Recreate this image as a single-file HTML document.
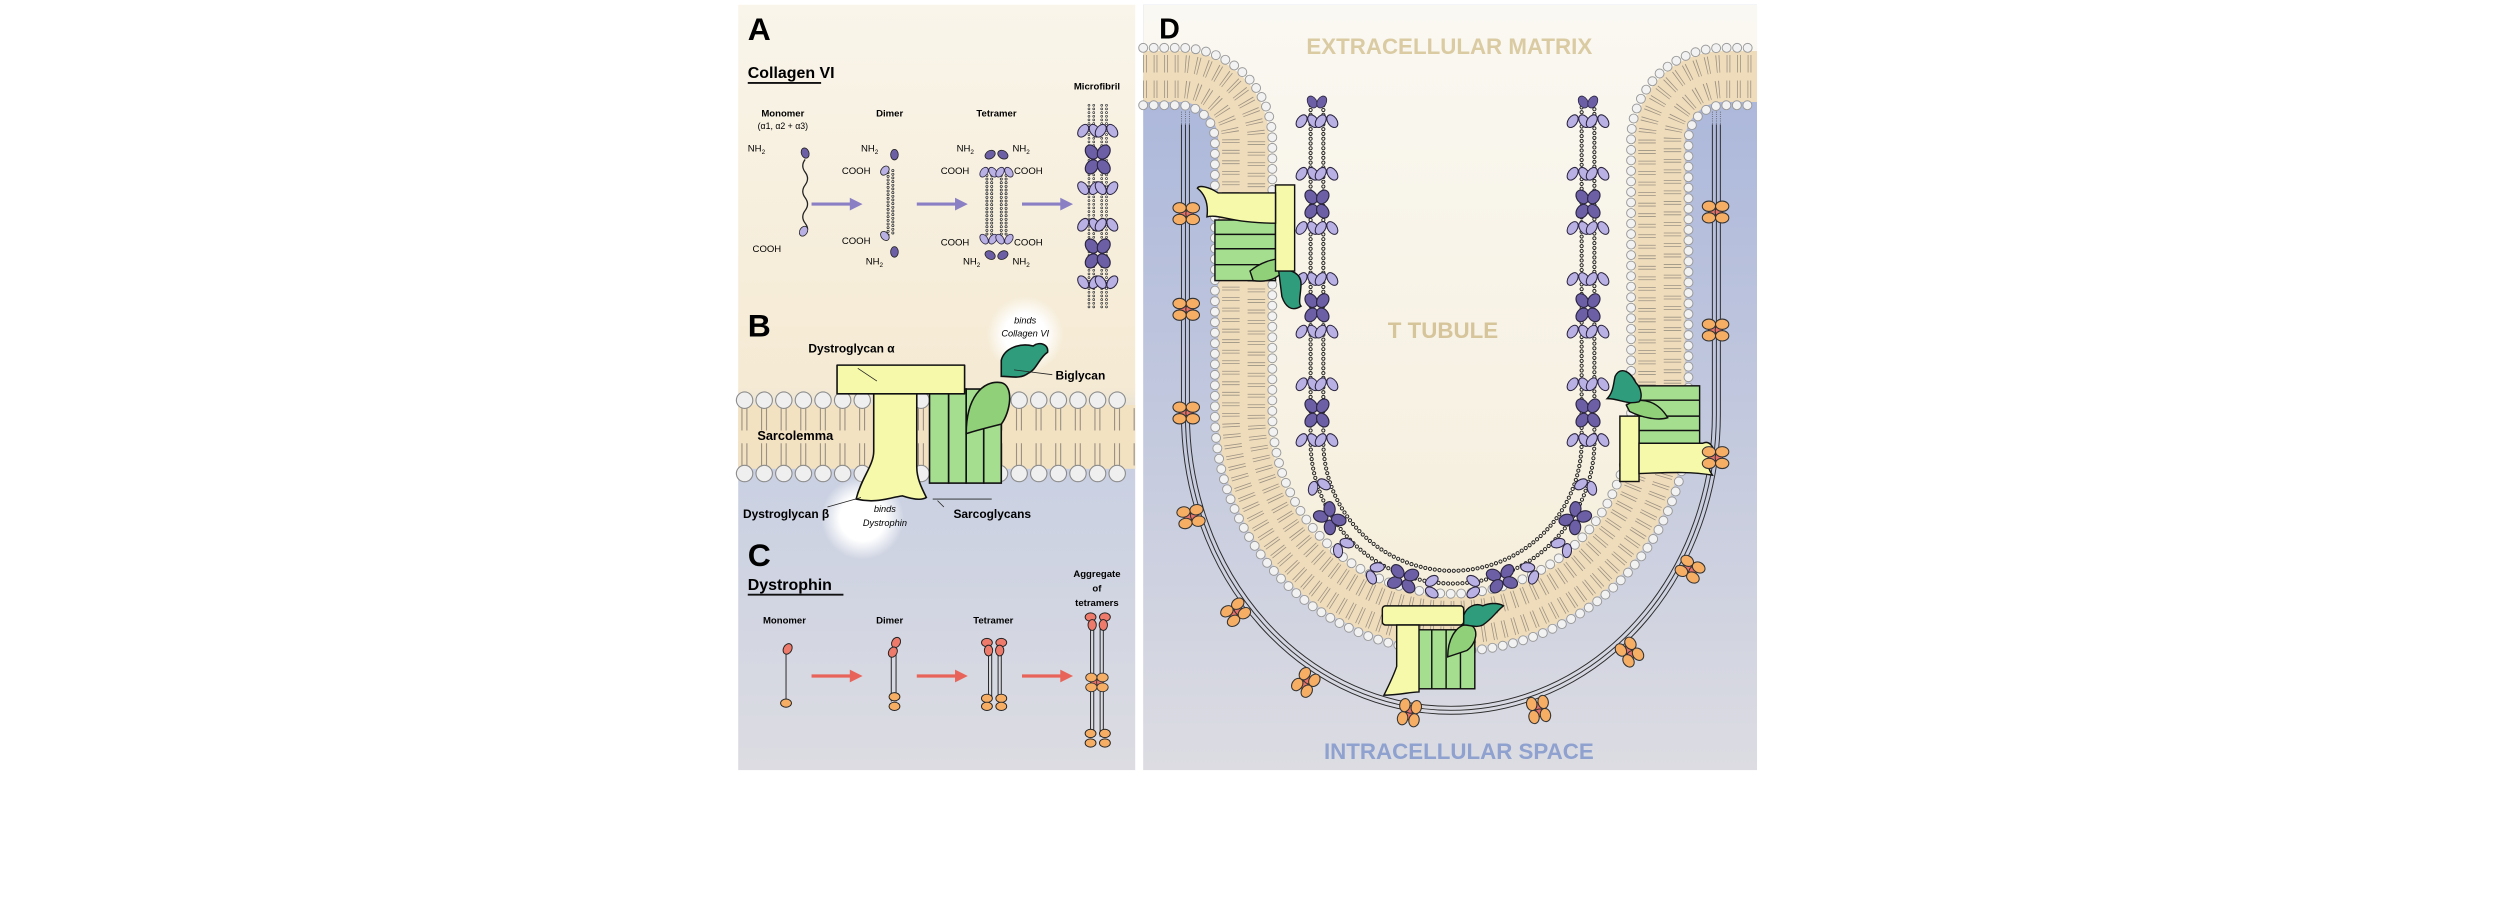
<!DOCTYPE html>
<html><head><meta charset="utf-8"><style>
html,body{margin:0;padding:0;background:#fff;width:2500px;height:918px;overflow:hidden}
svg{display:block}
text{font-family:"Liberation Sans",Arial,sans-serif}
</style></head><body>
<svg width="2500" height="918" viewBox="0 0 2500 918" xmlns="http://www.w3.org/2000/svg">
<defs>
<linearGradient id="gabc" x1="0" y1="0" x2="0" y2="1">
<stop offset="0" stop-color="#f9f5ea"/><stop offset="0.5" stop-color="#f5ead3"/><stop offset="0.6" stop-color="#c9d0e2"/><stop offset="1" stop-color="#dcdce2"/></linearGradient>
<linearGradient id="gd" x1="0" y1="0" x2="0" y2="1">
<stop offset="0" stop-color="#a6b3da"/><stop offset="0.55" stop-color="#c3c9de"/><stop offset="1" stop-color="#dcdce2"/></linearGradient>
<linearGradient id="gin" x1="0" y1="0" x2="0" y2="1">
<stop offset="0" stop-color="#faf8f2"/><stop offset="1" stop-color="#f5eedb"/></linearGradient>
<radialGradient id="glow"><stop offset="0.55" stop-color="#fff" stop-opacity="1"/><stop offset="1" stop-color="#fff" stop-opacity="0"/></radialGradient>
<g id="lp" stroke="#2b2540" stroke-width="0.5" fill="#b9b0e3">
<ellipse cx="-2.8" cy="0" rx="2.2" ry="3.4" transform="rotate(35 -2.8 0)"/>
<ellipse cx="2.8" cy="0" rx="2.2" ry="3.4" transform="rotate(-35 2.8 0)"/></g>
<g id="dd" stroke="#2b2540" stroke-width="0.5" fill="#6d5fa6">
<ellipse cx="-2.6" cy="-3.2" rx="2.5" ry="3.3" transform="rotate(-35 -2.6 -3.2)"/>
<ellipse cx="2.6" cy="-3.2" rx="2.5" ry="3.3" transform="rotate(35 2.6 -3.2)"/>
<ellipse cx="-2.6" cy="3.2" rx="2.5" ry="3.3" transform="rotate(35 -2.6 3.2)"/>
<ellipse cx="2.6" cy="3.2" rx="2.5" ry="3.3" transform="rotate(-35 2.6 3.2)"/></g>
<g id="oc" stroke="#333" stroke-width="0.5">
<ellipse cx="-1.6" cy="0" rx="1.8" ry="2.4" fill="#e8716a"/><ellipse cx="1.6" cy="0" rx="1.8" ry="2.4" fill="#e8716a"/>
<ellipse cx="-3.2" cy="-2.8" rx="3.2" ry="2.5" fill="#f6ad64"/><ellipse cx="3.2" cy="-2.8" rx="3.2" ry="2.5" fill="#f6ad64"/>
<ellipse cx="-3.2" cy="2.8" rx="3.2" ry="2.5" fill="#f6ad64"/><ellipse cx="3.2" cy="2.8" rx="3.2" ry="2.5" fill="#f6ad64"/></g>
</defs>
<g transform="scale(1.59439)">
<!-- Panel ABC -->
<rect x="463" y="3" width="249" height="480" fill="url(#gabc)"/>
<text x="469" y="25" font-size="20" font-weight="bold">A</text>
<text x="469" y="49" font-size="10" font-weight="bold">Collagen VI</text>
<line x1="469" y1="52" x2="515" y2="52" stroke="#111" stroke-width="1.2"/>
<g font-size="6" font-weight="bold" text-anchor="middle">
<text x="491" y="73">Monomer</text><text x="558" y="73">Dimer</text><text x="625" y="73">Tetramer</text><text x="688" y="56">Microfibril</text></g>
<text x="491" y="81" font-size="5.5" text-anchor="middle">(α1, α2 + α3)</text>
<g font-size="6">
<text x="469" y="95">NH<tspan font-size="4" dy="1.5">2</tspan></text>
<text x="472" y="158">COOH</text>
<text x="540" y="95">NH<tspan font-size="4" dy="1.5">2</tspan></text>
<text x="528" y="109">COOH</text><text x="528" y="153">COOH</text>
<text x="543" y="166">NH<tspan font-size="4" dy="1.5">2</tspan></text>
<text x="600" y="95">NH<tspan font-size="4" dy="1.5">2</tspan></text><text x="635" y="95">NH<tspan font-size="4" dy="1.5">2</tspan></text>
<text x="590" y="109">COOH</text><text x="636" y="109">COOH</text>
<text x="590" y="154">COOH</text><text x="636" y="154">COOH</text>
<text x="604" y="166">NH<tspan font-size="4" dy="1.5">2</tspan></text><text x="635" y="166">NH<tspan font-size="4" dy="1.5">2</tspan></text>
</g>
<path d="M505,100 q-3,4 0,8 q3,4 0,8 q-3,4 0,8 q3,4 0,8 q-3,4 0,8 q3,4 0,6" fill="none" stroke="#222" stroke-width="0.8"/>
<ellipse cx="505" cy="96" rx="2.4" ry="3.3" fill="#6d5fa6" stroke="#222" stroke-width="0.5" transform="rotate(-20 505 96)"/>
<ellipse cx="504" cy="145" rx="2.4" ry="3.3" fill="#b9b0e3" stroke="#222" stroke-width="0.5" transform="rotate(30 504 145)"/>
<g stroke="#8a7fc4" stroke-width="2" fill="#8a7fc4">
<line x1="509" y1="128" x2="535" y2="128"/><path d="M541,128 l-8,-4 v8z" stroke="none"/>
<line x1="575" y1="128" x2="601" y2="128"/><path d="M607,128 l-8,-4 v8z" stroke="none"/>
<line x1="641" y1="128" x2="667" y2="128"/><path d="M673,128 l-8,-4 v8z" stroke="none"/></g>
<g fill="none" stroke="#222" stroke-width="1.8" stroke-dasharray="0 2.3" stroke-linecap="round"><line x1="557" y1="106" x2="557" y2="148"/><line x1="560" y1="107" x2="560" y2="147"/></g>
<g fill="none" stroke="#fff" stroke-width="0.9" stroke-dasharray="0 2.3" stroke-linecap="round"><line x1="557" y1="106" x2="557" y2="148"/><line x1="560" y1="107" x2="560" y2="147"/></g>
<g stroke="#222" stroke-width="0.5">
<ellipse cx="561" cy="97" rx="2.4" ry="3.3" fill="#6d5fa6"/><ellipse cx="555" cy="107" rx="2.3" ry="3.2" fill="#b9b0e3" transform="rotate(40 555 107)"/>
<ellipse cx="555" cy="148" rx="2.3" ry="3.2" fill="#b9b0e3" transform="rotate(-40 555 148)"/><ellipse cx="561" cy="158" rx="2.4" ry="3.3" fill="#6d5fa6"/></g>
<g fill="none" stroke="#222" stroke-width="1.8" stroke-dasharray="0 2.3" stroke-linecap="round"><line x1="619" y1="110" x2="619" y2="148"/><line x1="622" y1="110" x2="622" y2="148"/><line x1="628" y1="110" x2="628" y2="148"/><line x1="631" y1="110" x2="631" y2="148"/></g>
<g fill="none" stroke="#fff" stroke-width="0.9" stroke-dasharray="0 2.3" stroke-linecap="round"><line x1="619" y1="110" x2="619" y2="148"/><line x1="622" y1="110" x2="622" y2="148"/><line x1="628" y1="110" x2="628" y2="148"/><line x1="631" y1="110" x2="631" y2="148"/></g>
<use href="#lp" x="620" y="108"/><use href="#lp" x="630" y="108"/>
<use href="#lp" x="620" y="150" transform="rotate(180 620 150)"/><use href="#lp" x="630" y="150" transform="rotate(180 630 150)"/>
<g stroke="#222" stroke-width="0.5" fill="#6d5fa6">
<ellipse cx="621" cy="97" rx="2.5" ry="3.4" transform="rotate(60 621 97)"/><ellipse cx="629" cy="97" rx="2.5" ry="3.4" transform="rotate(-60 629 97)"/>
<ellipse cx="621" cy="160" rx="2.5" ry="3.4" transform="rotate(-60 621 160)"/><ellipse cx="629" cy="160" rx="2.5" ry="3.4" transform="rotate(60 629 160)"/></g>
<!-- microfibril -->
<g fill="none" stroke="#222" stroke-width="1.6" stroke-dasharray="0 2.3" stroke-linecap="round"><line x1="683" y1="66" x2="683" y2="193"/><line x1="686" y1="66" x2="686" y2="193"/><line x1="691" y1="66" x2="691" y2="193"/><line x1="694" y1="66" x2="694" y2="193"/></g>
<g fill="none" stroke="#fff" stroke-width="0.8" stroke-dasharray="0 2.3" stroke-linecap="round"><line x1="683" y1="66" x2="683" y2="193"/><line x1="686" y1="66" x2="686" y2="193"/><line x1="691" y1="66" x2="691" y2="193"/><line x1="694" y1="66" x2="694" y2="193"/></g>
<use href="#lp" transform="translate(683,82) scale(1.3)"/><use href="#lp" transform="translate(694,82) scale(1.3)"/>
<use href="#dd" transform="translate(688.5,100) scale(1.45)"/>
<use href="#lp" transform="translate(683,118) scale(1.3) rotate(180)"/><use href="#lp" transform="translate(694,118) scale(1.3) rotate(180)"/>
<use href="#lp" transform="translate(683,141) scale(1.3)"/><use href="#lp" transform="translate(694,141) scale(1.3)"/>
<use href="#dd" transform="translate(688.5,159) scale(1.45)"/>
<use href="#lp" transform="translate(683,177) scale(1.3) rotate(180)"/><use href="#lp" transform="translate(694,177) scale(1.3) rotate(180)"/>
<!-- B -->
<text x="469" y="211" font-size="20" font-weight="bold">B</text>
<rect x="463" y="254" width="249" height="40" fill="#f2e2c2"/>
<line x1="465" y1="263" x2="712" y2="263" stroke-width="14" stroke-dasharray="0.7 2.4 0.7 8.5" stroke="#9b9184"/>
<line x1="465" y1="285" x2="712" y2="285" stroke-width="14" stroke-dasharray="0.7 2.4 0.7 8.5" stroke="#9b9184"/>
<g fill="none" stroke-linecap="round">
<line x1="467" y1="251" x2="712" y2="251" stroke="#8c8c8c" stroke-width="11" stroke-dasharray="0 12.3"/>
<line x1="467" y1="251" x2="712" y2="251" stroke="#efefef" stroke-width="9.6" stroke-dasharray="0 12.3"/>
<line x1="467" y1="297" x2="712" y2="297" stroke="#8c8c8c" stroke-width="11" stroke-dasharray="0 12.3"/>
<line x1="467" y1="297" x2="712" y2="297" stroke="#efefef" stroke-width="9.6" stroke-dasharray="0 12.3"/></g>
<text x="475" y="276" font-size="8" font-weight="bold">Sarcolemma</text>
<circle cx="643" cy="210" r="24" fill="url(#glow)"/>
<circle cx="541" cy="325" r="26" fill="url(#glow)"/>
<g stroke="#111" stroke-width="1">
<rect x="583" y="244" width="12" height="59" fill="#a6de90"/><rect x="595" y="244" width="11" height="59" fill="#a6de90"/>
<rect x="606" y="244" width="11" height="59" fill="#a6de90"/><rect x="617" y="244" width="11" height="59" fill="#a6de90"/>
<path d="M606,272 C606,250 616,238 628,240 C636,242 634,258 628,266 C620,268 612,270 606,272Z" fill="#8fd078"/>
<path d="M628,226 C630,218 640,215 648,217 C652,214 658,216 657,221 C652,224 650,232 645,234 C640,238 634,236 628,236Z" fill="#2f9c7c"/>
<path d="M525,229 h80 v18 h-80z" fill="#f6f9a9" stroke-linejoin="round"/>
<path d="M548,247 V283 C548,292 540,300 537,313 C550,316 558,312 566,311 C572,313 578,314 581,312 C578,306 575,300 575,293 V247Z" fill="#f6f9a9"/>
</g>
<g stroke="#222" stroke-width="0.5"><line x1="538" y1="231" x2="550" y2="239"/><line x1="636" y1="232" x2="660" y2="235"/><line x1="519" y1="318" x2="540" y2="312"/><line x1="592" y1="318" x2="588" y2="314"/><line x1="585" y1="313" x2="622" y2="313"/></g>
<g font-size="7.5" font-weight="bold">
<text x="507" y="221">Dystroglycan α</text>
<text x="662" y="238">Biglycan</text>
<text x="466" y="325">Dystroglycan β</text>
<text x="598" y="325">Sarcoglycans</text></g>
<g font-size="5.8" font-style="italic" text-anchor="middle">
<text x="643" y="203">binds</text><text x="643" y="211">Collagen VI</text>
<text x="555" y="321">binds</text><text x="555" y="330">Dystrophin</text></g>
<!-- C -->
<text x="469" y="355" font-size="20" font-weight="bold">C</text>
<text x="469" y="370" font-size="10" font-weight="bold">Dystrophin</text>
<line x1="469" y1="373" x2="529" y2="373" stroke="#111" stroke-width="1.2"/>
<g font-size="6" font-weight="bold" text-anchor="middle">
<text x="492" y="391">Monomer</text><text x="558" y="391">Dimer</text><text x="623" y="391">Tetramer</text>
<text x="688" y="362">Aggregate</text><text x="688" y="371">of</text><text x="688" y="380">tetramers</text></g>
<g stroke="#e8645a" stroke-width="2" fill="#e8645a">
<line x1="509" y1="424" x2="535" y2="424"/><path d="M541,424 l-8,-4 v8z" stroke="none"/>
<line x1="575" y1="424" x2="601" y2="424"/><path d="M607,424 l-8,-4 v8z" stroke="none"/>
<line x1="641" y1="424" x2="667" y2="424"/><path d="M673,424 l-8,-4 v8z" stroke="none"/></g>
<g stroke="#222" stroke-width="0.6">
<line x1="493" y1="408" x2="493" y2="440"/>
<ellipse cx="494" cy="407" rx="2.6" ry="3.5" fill="#ee7a6c" transform="rotate(30 494 407)"/>
<ellipse cx="493" cy="441" rx="3.4" ry="2.6" fill="#f6ad64"/>
<line x1="559" y1="408" x2="559" y2="440"/><line x1="562" y1="408" x2="562" y2="440"/>
<ellipse cx="562" cy="403" rx="2.6" ry="3.4" fill="#ee7a6c" transform="rotate(30 562 403)"/><ellipse cx="560" cy="409" rx="2.6" ry="3.4" fill="#ee7a6c" transform="rotate(30 560 409)"/>
<ellipse cx="561" cy="437" rx="3.4" ry="2.6" fill="#f6ad64"/><ellipse cx="561" cy="443" rx="3.4" ry="2.6" fill="#f6ad64"/>
<line x1="620" y1="408" x2="620" y2="438"/><line x1="622" y1="408" x2="622" y2="438"/><line x1="626" y1="408" x2="626" y2="438"/><line x1="628" y1="408" x2="628" y2="438"/>
<ellipse cx="619" cy="403" rx="3.4" ry="2.6" fill="#ee7a6c"/><ellipse cx="628" cy="403" rx="3.4" ry="2.6" fill="#ee7a6c"/>
<ellipse cx="620" cy="408" rx="2.6" ry="3.4" fill="#ee7a6c"/><ellipse cx="627" cy="408" rx="2.6" ry="3.4" fill="#ee7a6c"/>
<ellipse cx="619" cy="438" rx="3.4" ry="2.6" fill="#f6ad64"/><ellipse cx="628" cy="438" rx="3.4" ry="2.6" fill="#f6ad64"/>
<ellipse cx="619" cy="443" rx="3.4" ry="2.6" fill="#f6ad64"/><ellipse cx="628" cy="443" rx="3.4" ry="2.6" fill="#f6ad64"/>
<line x1="684" y1="390" x2="684" y2="462"/><line x1="686" y1="390" x2="686" y2="462"/><line x1="690" y1="390" x2="690" y2="462"/><line x1="692" y1="390" x2="692" y2="462"/>
<ellipse cx="684" cy="387" rx="3.4" ry="2.6" fill="#ee7a6c"/><ellipse cx="693" cy="387" rx="3.4" ry="2.6" fill="#ee7a6c"/>
<ellipse cx="685" cy="392" rx="2.6" ry="3.4" fill="#ee7a6c"/><ellipse cx="692" cy="392" rx="2.6" ry="3.4" fill="#ee7a6c"/>
<use href="#oc" transform="translate(688,428) scale(1.1)"/>
<ellipse cx="684" cy="460" rx="3.4" ry="2.6" fill="#f6ad64"/><ellipse cx="693" cy="460" rx="3.4" ry="2.6" fill="#f6ad64"/>
<ellipse cx="684" cy="466" rx="3.4" ry="2.6" fill="#f6ad64"/><ellipse cx="693" cy="466" rx="3.4" ry="2.6" fill="#f6ad64"/>
</g>
<!-- Panel D -->
<rect x="717" y="3" width="385" height="480" fill="url(#gd)"/>
<path d="M717,3 H1102 V48 H1081 A40,40 0 0 0 1041,88 V260 A130.5,130.5 0 0 1 780,260 V88 A40,40 0 0 0 740,48 H717 Z" fill="url(#gin)"/>
<g fill="none">
<path d="M717,48 H740 A40,40 0 0 1 780,88 V260 A130.5,130.5 0 0 0 1041,260 V88 A40,40 0 0 1 1081,48 H1102" stroke="#efdcbb" stroke-width="32"/>
<path d="M717,56 H740 A32,32 0 0 1 772,88 V260 A138.5,138.5 0 0 0 1049,260 V88 A32,32 0 0 1 1081,56 H1102" stroke="#9c9284" stroke-width="11" stroke-dasharray="0.5 1.3 0.5 4.3"/>
<path d="M717,40 H740 A48,48 0 0 1 788,88 V260 A122.5,122.5 0 0 0 1033,260 V88 A48,48 0 0 1 1081,40 H1102" stroke="#9c9284" stroke-width="11" stroke-dasharray="0.5 1.3 0.5 4.3"/>
<g stroke-linecap="round">
<path d="M717,66 H740 A22,22 0 0 1 762,88 V260 A148.5,148.5 0 0 0 1059,260 V88 A22,22 0 0 1 1081,66 H1102" stroke="#9a9a9a" stroke-width="6.2" stroke-dasharray="0 6.6"/>
<path d="M717,66 H740 A22,22 0 0 1 762,88 V260 A148.5,148.5 0 0 0 1059,260 V88 A22,22 0 0 1 1081,66 H1102" stroke="#f2f2f2" stroke-width="5" stroke-dasharray="0 6.6"/>
<path d="M717,30 H740 A58,58 0 0 1 798,88 V260 A112.5,112.5 0 0 0 1023,260 V88 A58,58 0 0 1 1081,30 H1102" stroke="#9a9a9a" stroke-width="6.2" stroke-dasharray="0 6.6"/>
<path d="M717,30 H740 A58,58 0 0 1 798,88 V260 A112.5,112.5 0 0 0 1023,260 V88 A58,58 0 0 1 1081,30 H1102" stroke="#f2f2f2" stroke-width="5" stroke-dasharray="0 6.6"/>
</g>
<g stroke="#2a2a2a" stroke-width="0.6">
<path d="M741,78 V260 A169,188 0 0 0 1079,260 V78"/>
<path d="M743.5,78 V260 A166.5,185.5 0 0 0 1076.5,260 V78"/>
<path d="M746,78 V260 A164,183 0 0 0 1074,260 V78"/>
</g>
<g stroke="#555" stroke-width="0.5" stroke-dasharray="0.6 0.8"><line x1="741" y1="70" x2="741" y2="78"/><line x1="743.5" y1="70" x2="743.5" y2="78"/><line x1="746" y1="70" x2="746" y2="78"/><line x1="1074" y1="70" x2="1074" y2="78"/><line x1="1076.5" y1="70" x2="1076.5" y2="78"/><line x1="1079" y1="70" x2="1079" y2="78"/></g>
<g stroke-linecap="round">
<path d="M822,66 V277 A89,89 0 0 0 1000,277 V66" stroke="#222" stroke-width="2.6" stroke-dasharray="0 3"/>
<path d="M830,66 V277 A81,81 0 0 0 992,277 V66" stroke="#222" stroke-width="2.6" stroke-dasharray="0 3"/>
<path d="M822,66 V277 A89,89 0 0 0 1000,277 V66" stroke="#f7f1e2" stroke-width="1.4" stroke-dasharray="0 3"/>
<path d="M830,66 V277 A81,81 0 0 0 992,277 V66" stroke="#f7f1e2" stroke-width="1.4" stroke-dasharray="0 3"/>
</g>
</g>
<g fill="#6d5fa6" stroke="#2b2540" stroke-width="0.5">
<ellipse cx="823" cy="64" rx="2.8" ry="4" transform="rotate(-30 823 64)"/><ellipse cx="829" cy="64" rx="2.8" ry="4" transform="rotate(30 829 64)"/>
<ellipse cx="993" cy="64" rx="2.8" ry="4" transform="rotate(-30 993 64)"/><ellipse cx="999" cy="64" rx="2.8" ry="4" transform="rotate(30 999 64)"/></g>
<g>
<use href="#lp" transform="translate(820,76) scale(1.3)"/><use href="#lp" transform="translate(832,76) scale(1.3)"/><use href="#lp" transform="translate(990,76) scale(1.3)"/><use href="#lp" transform="translate(1002,76) scale(1.3)"/>
<use href="#lp" transform="translate(820,109) scale(1.3)"/><use href="#lp" transform="translate(832,109) scale(1.3)"/><use href="#lp" transform="translate(990,109) scale(1.3)"/><use href="#lp" transform="translate(1002,109) scale(1.3)"/>
<use href="#dd" transform="translate(826,128) scale(1.4)"/><use href="#dd" transform="translate(996,128) scale(1.4)"/>
<use href="#lp" transform="translate(820,143) scale(1.3)"/><use href="#lp" transform="translate(832,143) scale(1.3)"/><use href="#lp" transform="translate(990,143) scale(1.3)"/><use href="#lp" transform="translate(1002,143) scale(1.3)"/>
<use href="#lp" transform="translate(820,175) scale(1.3)"/><use href="#lp" transform="translate(832,175) scale(1.3)"/><use href="#lp" transform="translate(990,175) scale(1.3)"/><use href="#lp" transform="translate(1002,175) scale(1.3)"/>
<use href="#dd" transform="translate(826,193) scale(1.4)"/><use href="#dd" transform="translate(996,193) scale(1.4)"/>
<use href="#lp" transform="translate(820,208) scale(1.3)"/><use href="#lp" transform="translate(832,208) scale(1.3)"/><use href="#lp" transform="translate(990,208) scale(1.3)"/><use href="#lp" transform="translate(1002,208) scale(1.3)"/>
<use href="#lp" transform="translate(820,241) scale(1.3)"/><use href="#lp" transform="translate(832,241) scale(1.3)"/><use href="#lp" transform="translate(990,241) scale(1.3)"/><use href="#lp" transform="translate(1002,241) scale(1.3)"/>
<use href="#dd" transform="translate(826,259) scale(1.4)"/><use href="#dd" transform="translate(996,259) scale(1.4)"/>
<use href="#lp" transform="translate(820,276) scale(1.3)"/><use href="#lp" transform="translate(832,276) scale(1.3)"/><use href="#lp" transform="translate(990,276) scale(1.3)"/><use href="#lp" transform="translate(1002,276) scale(1.3)"/>
<use href="#dd" transform="translate(834,325) rotate(-40) scale(1.4)"/>
<use href="#dd" transform="translate(988,325) rotate(40) scale(1.4)"/>
<use href="#dd" transform="translate(880,363) rotate(-75) scale(1.4)"/>
<use href="#dd" transform="translate(942,363) rotate(75) scale(1.4)"/>
<use href="#lp" transform="translate(827,305) rotate(-20) scale(1.3)"/>
<use href="#lp" transform="translate(995,305) rotate(20) scale(1.3)"/>
<use href="#lp" transform="translate(842,343) rotate(-40) scale(1.3)"/>
<use href="#lp" transform="translate(980,343) rotate(40) scale(1.3)"/>
<use href="#lp" transform="translate(862,359) rotate(-60) scale(1.3)"/>
<use href="#lp" transform="translate(960,359) rotate(60) scale(1.3)"/>
<use href="#lp" transform="translate(898,368) rotate(-90) scale(1.3)"/>
<use href="#lp" transform="translate(924,368) rotate(90) scale(1.3)"/>
</g>
<g stroke="#111" stroke-width="0.9">
<rect x="762" y="138" width="38" height="38" fill="#a6de90"/>
<line x1="762" y1="147" x2="800" y2="147"/><line x1="762" y1="156" x2="800" y2="156"/><line x1="762" y1="166" x2="800" y2="166"/>
<path d="M786,176 C800,178 808,170 806,162 C798,162 790,165 784,170Z" fill="#8fd078"/>
<path d="M802,170 C810,168 816,172 816,178 C816,184 814,190 816,192 C810,196 806,192 804,186Z" fill="#2f9c7c"/>
<rect x="800" y="116" width="12" height="54" fill="#f6f9a9"/>
<path d="M800,121 H764 C758,117 752,116 751,118 C756,122 758,128 757,136 C765,134 772,140 800,140Z" fill="#f6f9a9"/>
<rect x="1028" y="242" width="38" height="38" fill="#a6de90"/>
<line x1="1028" y1="251" x2="1066" y2="251"/><line x1="1028" y1="261" x2="1066" y2="261"/><line x1="1028" y1="270" x2="1066" y2="270"/>
<path d="M1020,254 C1030,248 1040,252 1046,262 C1040,264 1030,262 1022,258Z" fill="#8fd078"/>
<path d="M1013,236 C1016,230 1022,232 1026,240 C1030,244 1030,250 1028,252 C1020,254 1016,250 1008,250 C1012,246 1012,240 1013,236Z" fill="#2f9c7c"/>
<rect x="1016" y="261" width="12" height="41" fill="#f6f9a9"/>
<path d="M1028,278 H1068 C1072,276 1074,280 1075,282 C1070,286 1070,292 1074,298 C1062,296 1052,296 1028,297Z" fill="#f6f9a9"/>
<rect x="888" y="395" width="37" height="37" fill="#a6de90"/>
<line x1="898" y1="395" x2="898" y2="432"/><line x1="907" y1="395" x2="907" y2="432"/><line x1="916" y1="395" x2="916" y2="432"/>
<path d="M908,412 C908,398 916,390 922,392 C928,394 926,404 920,408Z" fill="#8fd078"/>
<path d="M918,386 C920,380 926,378 930,380 C934,378 940,378 943,380 C938,384 936,388 930,392 C926,394 922,392 918,392Z" fill="#2f9c7c"/>
<rect x="867" y="380" width="51" height="12" rx="2" fill="#f6f9a9"/>
<path d="M876,392 V418 C874,424 870,432 868,436 C878,436 884,434 890,434 L890,428 L890,392Z" fill="#f6f9a9"/>
</g>
<g>
<use href="#oc" transform="translate(744,134) scale(1.3)"/><use href="#oc" transform="translate(744,194) scale(1.3)"/><use href="#oc" transform="translate(744,259) scale(1.3)"/>
<use href="#oc" transform="translate(747,324) rotate(-10) scale(1.3)"/><use href="#oc" transform="translate(775,384) rotate(-35) scale(1.3)"/><use href="#oc" transform="translate(819,428) rotate(-55) scale(1.3)"/>
<use href="#oc" transform="translate(884,447) rotate(-80) scale(1.3)"/><use href="#oc" transform="translate(965,445) rotate(80) scale(1.3)"/><use href="#oc" transform="translate(1022,409) rotate(55) scale(1.3)"/>
<use href="#oc" transform="translate(1060,357) rotate(30) scale(1.3)"/><use href="#oc" transform="translate(1076,287) scale(1.3)"/><use href="#oc" transform="translate(1076,207) scale(1.3)"/><use href="#oc" transform="translate(1076,133) scale(1.3)"/>
</g>
<text x="727" y="24" font-size="18" font-weight="bold">D</text>
<text x="909" y="34" font-size="14" font-weight="bold" fill="#dacba3" text-anchor="middle">EXTRACELLULAR MATRIX</text>
<text x="905" y="212" font-size="14" font-weight="bold" fill="#d6c49a" text-anchor="middle">T TUBULE</text>
<text x="915" y="476" font-size="14" font-weight="bold" fill="#8ea1cf" text-anchor="middle">INTRACELLULAR SPACE</text>
</g>
</svg>
</body></html>
